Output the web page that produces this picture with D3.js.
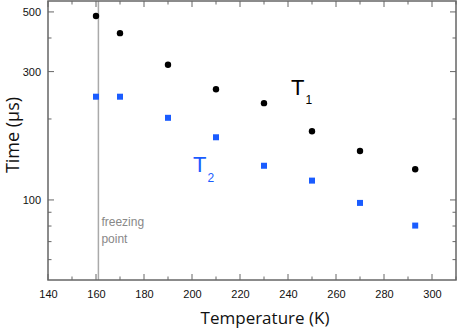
<!DOCTYPE html>
<html>
<head>
<meta charset="utf-8">
<script src="https://cdn.jsdelivr.net/npm/d3@7"></script>
<style>
  body { margin: 0; background: #fff; }
  svg { display: block; }
</style>
</head>
<body>
<div id="chart"></div>
<script>
var temps = [160, 170, 190, 210, 230, 250, 270, 293];
var t1Values = [483, 417, 318, 258, 229, 180, 152, 130];
var t2Values = [242, 242, 202, 171, 134, 118, 97.5, 80.3];
var xTicks = [140, 160, 180, 200, 220, 240, 260, 280, 300];
var yTickLabels = [100, 300, 500];
var freezingPoint = 161;

var width = 457;
var height = 332;
var plotLeft = 48, plotRight = 456, plotTop = 1, plotBottom = 280;
var axisColor = "#666";
var blue = "#1a5cff";

var svg = d3.select("#chart")
  .append("svg")
  .attr("width", width)
  .attr("height", height);

var x = d3.scaleLinear().domain([140, 310]).range([plotLeft, plotRight]);
var y = d3.scaleLog().domain([50.4, 549]).range([plotBottom, plotTop]);

// freezing point line
svg.append("line")
  .attr("x1", x(freezingPoint))
  .attr("x2", x(freezingPoint))
  .attr("y1", plotTop)
  .attr("y2", plotBottom)
  .style("stroke", "#aaa")
  .style("stroke-width", 1.5);

svg.append("text")
  .attr("x", x(freezingPoint) + 3)
  .attr("y", 226)
  .style("font-family", "Liberation Sans, Arial, sans-serif")
  .style("font-size", "12px")
  .style("fill", "#888")
  .text("freezing");
svg.append("text")
  .attr("x", x(freezingPoint) + 3)
  .attr("y", 243)
  .style("font-family", "Liberation Sans, Arial, sans-serif")
  .style("font-size", "12px")
  .style("fill", "#888")
  .text("point");

// ticks
var xMinor = d3.range(140, 311, 10);
var yMinor = [60, 70, 80, 90, 100, 200, 300, 400, 500];

function drawAxes() {
  var bottomAxis = d3.axisBottom(x).tickValues(xTicks).tickSize(0).tickPadding(10)
    .tickFormat(d3.format("d"));
  var gx = svg.append("g")
    .attr("transform", "translate(0," + plotBottom + ")")
    .call(bottomAxis);
  gx.select(".domain").remove();
  gx.selectAll("text")
    .style("font-family", "Liberation Sans, Arial, sans-serif")
    .style("font-size", "11px")
    .style("fill", "#111");

  var leftAxis = d3.axisLeft(y).tickValues(yTickLabels).tickSize(0).tickPadding(7)
    .tickFormat(d3.format("d"));
  var gy = svg.append("g")
    .attr("transform", "translate(" + plotLeft + ",0)")
    .call(leftAxis);
  gy.select(".domain").remove();
  gy.selectAll("text")
    .style("font-family", "Liberation Sans, Arial, sans-serif")
    .style("font-size", "11px")
    .style("fill", "#111");

  // inward tick marks on all four sides
  xMinor.forEach(function(t) {
    var len = (t % 20 === 0) ? 6 : 3.5;
    svg.append("line")
      .attr("x1", x(t)).attr("x2", x(t))
      .attr("y1", plotBottom).attr("y2", plotBottom - len)
      .style("stroke", axisColor);
    svg.append("line")
      .attr("x1", x(t)).attr("x2", x(t))
      .attr("y1", plotTop).attr("y2", plotTop + len)
      .style("stroke", axisColor);
  });
  yMinor.forEach(function(v) {
    var len = (yTickLabels.indexOf(v) >= 0) ? 6 : 3.5;
    svg.append("line")
      .attr("x1", plotLeft).attr("x2", plotLeft + len)
      .attr("y1", y(v)).attr("y2", y(v))
      .style("stroke", axisColor);
    svg.append("line")
      .attr("x1", plotRight).attr("x2", plotRight - len)
      .attr("y1", y(v)).attr("y2", y(v))
      .style("stroke", axisColor);
  });

  svg.append("rect")
    .attr("x", plotLeft)
    .attr("y", plotTop)
    .attr("width", plotRight - plotLeft)
    .attr("height", plotBottom - plotTop)
    .style("fill", "none")
    .style("stroke", axisColor)
    .style("stroke-width", 1.5);
}
drawAxes();

// data points
svg.selectAll(".t1")
  .data(temps)
  .enter()
  .append("circle")
  .attr("cx", function(d) { return x(d); })
  .attr("cy", function(d, i) { return y(t1Values[i]); })
  .attr("r", 3.2)
  .style("fill", "#000");

svg.selectAll(".t2")
  .data(temps)
  .enter()
  .append("rect")
  .attr("x", function(d) { return x(d) - 3; })
  .attr("y", function(d, i) { return y(t2Values[i]) - 3; })
  .attr("width", 6)
  .attr("height", 6)
  .style("fill", blue);

// series labels
var t1Label = svg.append("text")
  .attr("x", 291)
  .attr("y", 95)
  .style("font-family", "Liberation Sans, Arial, sans-serif")
  .style("font-size", "22px")
  .style("fill", "#000");
t1Label.append("tspan").text("T");
t1Label.append("tspan").attr("dx", 1).attr("dy", 9).style("font-size", "12px").text("1");

var t2Label = svg.append("text")
  .attr("x", 193)
  .attr("y", 172)
  .style("font-family", "Liberation Sans, Arial, sans-serif")
  .style("font-size", "22px")
  .style("fill", blue);
t2Label.append("tspan").text("T");
t2Label.append("tspan").attr("dx", 1).attr("dy", 10).style("font-size", "12px").text("2");

// axis titles
svg.append("text")
  .attr("x", 265)
  .attr("y", 324)
  .attr("text-anchor", "middle")
  .style("font-family", "Open Sans, sans-serif")
  .style("font-size", "17px")
  .style("fill", "#111")
  .text("Temperature (K)");

svg.append("text")
  .attr("transform", "translate(19,135) rotate(-90)")
  .attr("text-anchor", "middle")
  .style("font-family", "Open Sans, sans-serif")
  .style("font-size", "18px")
  .style("fill", "#111")
  .text("Time (µs)");
</script>
</body>
</html>
